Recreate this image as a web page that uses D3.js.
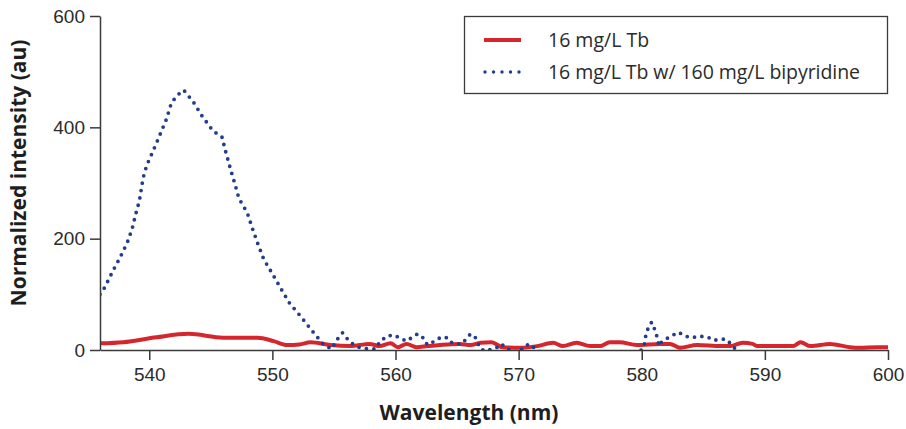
<!DOCTYPE html>
<html>
<head>
<meta charset="utf-8">
<script src="https://cdn.jsdelivr.net/npm/d3@7"></script>
<style>
  body { margin: 0; background: #fff; }
  svg { display: block; font-family: "Open Sans", "Noto Sans", sans-serif; }
  .axis path, .axis line { stroke: #3a3a3a; stroke-width: 1.5; }
  .axis text { font-size: 19px; fill: #2b2b2b; }
  .title { font-weight: bold; font-size: 21px; fill: #1e1e1e; }
</style>
</head>
<body>
<div id="chart"></div>
<script>
  // 16 mg/L Tb (solid red)
  var tbWave = [536.0, 537.9, 540.6, 543.2, 546.0, 548.8, 550.1, 551.2, 552.2, 553.1,
    554.7, 556.3, 557.9, 558.7, 559.6, 560.2, 560.9, 561.7, 562.6, 563.6, 565.2, 566.1,
    566.9, 567.8, 568.7, 570.1, 571.5, 572.8, 573.6, 574.7, 575.8, 576.6, 577.4, 578.2,
    579.6, 581.5, 582.3, 583.1, 584.5, 586.4, 587.2, 588.2, 589.0, 589.4, 592.3, 592.9,
    593.7, 595.3, 596.9, 597.7, 599.1, 600.0];
  var tbValue = [12, 14, 23, 29, 22, 22, 16, 9, 10, 14,
    9, 7, 11, 7, 12, 5, 11, 5, 7, 9, 11, 9,
    13, 14, 5, 4, 7, 13, 7, 13, 7, 7, 14, 14,
    9, 11, 11, 4, 9, 7, 7, 13, 11, 7, 7, 14,
    7, 11, 5, 4, 5, 5];

  // 16 mg/L Tb w/ 160 mg/L bipyridine (dotted blue)
  var bipyWave = [536.0, 536.4, 537.0, 537.6, 538.2, 538.6, 538.9, 539.2, 539.5, 539.8,
    540.3, 540.8, 541.1, 541.4, 541.8, 542.3, 542.8, 543.6, 544.3, 545.2, 545.9, 546.2,
    546.6, 547.0, 547.3, 547.6, 548.0, 548.4, 548.8, 549.3, 550.0, 550.7, 551.4, 552.2,
    553.1, 554.1, 554.8, 555.3, 555.7, 556.3, 557.0, 557.8, 558.4, 558.7, 559.3, 559.9,
    560.3, 560.9, 561.3, 561.8, 562.2, 562.4, 562.7, 563.4, 563.8, 564.1, 564.3, 564.8,
    565.4, 566.0, 566.4, 566.6, 566.9, 567.3, 568.2, 568.6, 569.1, 569.8, 570.5, 570.8,
    571.2, 572.5, 575.0, 578.0, 580.0, 580.2, 580.3, 580.5, 580.8, 581.0, 581.2, 581.4,
    581.6, 582.2, 583.0, 583.5, 584.1, 584.6, 585.4, 585.7, 586.1, 586.8, 587.1, 587.6,
    589.0, 594.0, 600.0];
  var bipyValue = [100, 113, 140, 165, 192, 217, 244, 268, 309, 332,
    357, 383, 399, 415, 444, 458, 467, 445, 420, 393, 383, 357,
    325, 295, 271, 261, 244, 217, 192, 163, 137, 110, 84, 63,
    38, 11, 2, 20, 31, 14, 5, 2, 2, 14, 25, 27,
    22, 16, 22, 29, 23, 13, 9, 20, 23, 23, 16, 11,
    11, 27, 27, 16, 2, -2, 4, 11, 2, -6, 5, 11,
    5, -15, -20, -15, 0, 9, 23, 38, 50, 40, 27, 7,
    14, 23, 32, 25, 22, 25, 23, 18, 18, 20, 14, 2,
    -15, -20, -20];

  var xTicks = [540, 550, 560, 570, 580, 590, 600];
  var yTicks = [0, 200, 400, 600];
  var seriesNames = ['16 mg/L Tb', '16 mg/L Tb w/ 160 mg/L bipyridine'];
  var seriesColors = ['#d5262e', '#233d8c'];

  var width = 906,
      height = 429,
      margin = { top: 16, right: 18, bottom: 79, left: 100 };

  var svg = d3.select('#chart')
    .append('svg')
    .attr('width', width)
    .attr('height', height);

  var x = d3.scaleLinear()
    .domain([536, 600])
    .range([margin.left, width - margin.right]);

  var y = d3.scaleLinear()
    .domain([0, 600])
    .range([height - margin.bottom, margin.top]);

  svg.append('clipPath')
    .attr('id', 'plot-clip')
    .append('rect')
    .attr('x', margin.left)
    .attr('y', margin.top)
    .attr('width', width - margin.right - margin.left)
    .attr('height', height - margin.bottom - margin.top);

  var tbData = tbWave.map(function(w, i) { return [w, tbValue[i]]; });
  var bipyData = bipyWave.map(function(w, i) { return [w, bipyValue[i]]; });

  var line = d3.line()
    .x(function(d) { return x(d[0]); })
    .y(function(d) { return y(d[1]); })
    .curve(d3.curveMonotoneX);

  var plot = svg.append('g').attr('clip-path', 'url(#plot-clip)');

  plot.append('path')
    .datum(tbData)
    .attr('fill', 'none')
    .attr('stroke', seriesColors[0])
    .attr('stroke-width', 4)
    .attr('stroke-linejoin', 'round')
    .attr('d', line);

  plot.append('path')
    .datum(bipyData)
    .attr('fill', 'none')
    .attr('stroke', seriesColors[1])
    .attr('stroke-width', 3.8)
    .attr('stroke-linecap', 'round')
    .attr('stroke-dasharray', '0 7.5')
    .attr('d', line.curve(d3.curveLinear));

  // axes
  svg.append('g')
    .attr('class', 'axis')
    .attr('transform', 'translate(0,' + y(0) + ')')
    .call(d3.axisBottom(x).tickValues(xTicks).tickSize(10).tickSizeOuter(0).tickPadding(5))
    .call(function(g) { g.selectAll('text').attr('dy', '0.85em'); });

  svg.append('g')
    .attr('class', 'axis')
    .attr('transform', 'translate(' + x(536) + ',0)')
    .call(d3.axisLeft(y).tickValues(yTicks).tickSize(10).tickSizeOuter(0).tickPadding(5));

  svg.append('text')
    .attr('class', 'title')
    .attr('x', 469)
    .attr('y', 420)
    .attr('text-anchor', 'middle')
    .text('Wavelength (nm)');

  svg.append('text')
    .attr('class', 'title')
    .attr('transform', 'translate(26,' + 173 + ') rotate(-90)')
    .attr('text-anchor', 'middle')
    .text('Normalized intensity (au)');

  // legend
  var legend = svg.append('g');

  legend.append('rect')
    .attr('x', 464.5)
    .attr('y', 16.5)
    .attr('width', 423)
    .attr('height', 77)
    .attr('fill', '#fff')
    .attr('stroke', '#3a3a3a')
    .attr('stroke-width', 1.3);

  seriesNames.forEach(function(name, i) {
    var ly = 40 + i * 32;
    var sample = legend.append('line')
      .attr('x1', 484)
      .attr('x2', 521)
      .attr('y1', ly)
      .attr('y2', ly)
      .attr('stroke', seriesColors[i]);
    if (i === 0) {
      sample.attr('stroke-width', 4);
    } else {
      sample.attr('stroke-width', 3.4)
        .attr('stroke-linecap', 'round')
        .attr('x1', 485)
        .attr('stroke-dasharray', '0 8.5');
    }
    legend.append('text')
      .attr('x', 548)
      .attr('y', ly + 7)
      .attr('font-size', 19.5)
      .attr('textLength', i === 1 ? 312 : null)
      .attr('fill', '#2b2b2b')
      .text(name);
  });
</script>
</body>
</html>
